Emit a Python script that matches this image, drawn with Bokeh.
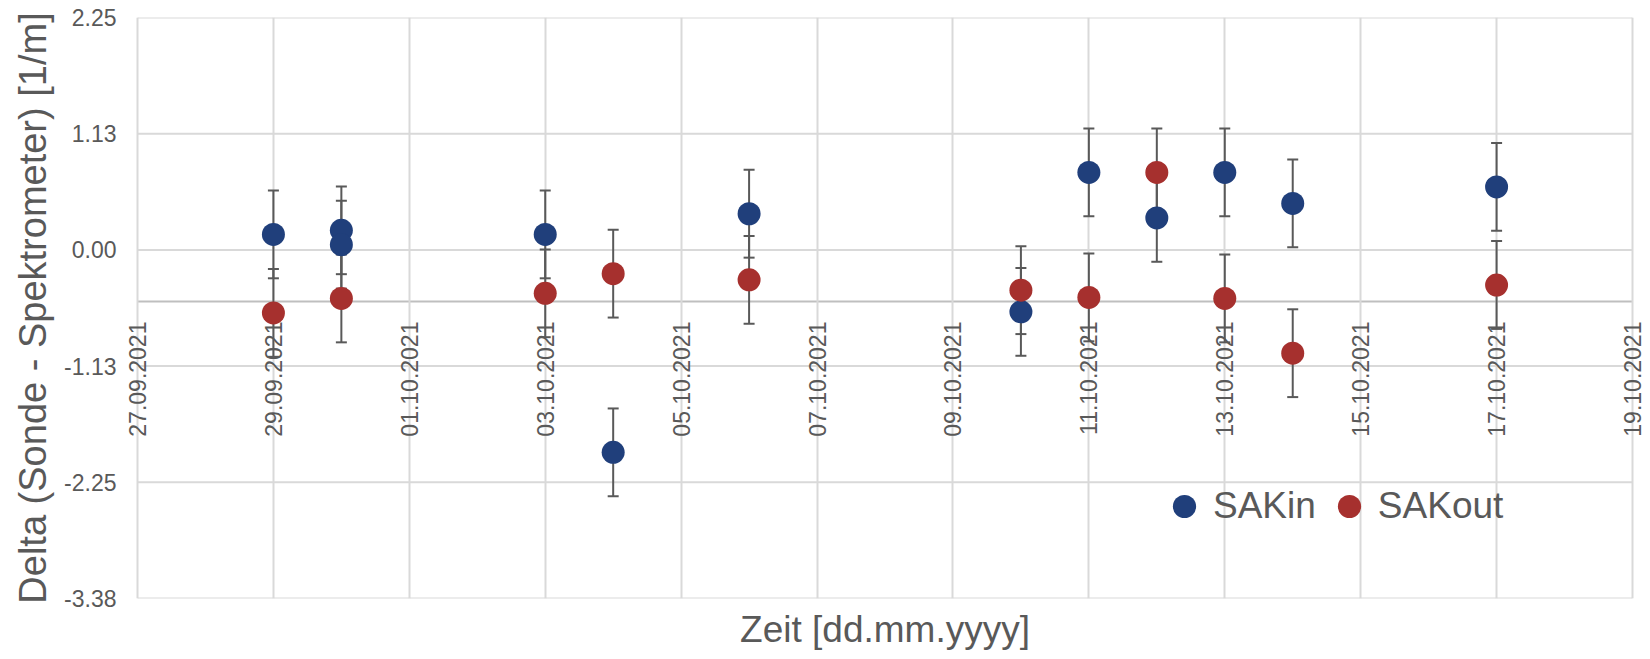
import math
from datetime import datetime, timedelta

from bokeh.plotting import figure
from bokeh.core.properties import value
from bokeh.models import (ColumnDataSource, Range1d, FixedTicker, Whisker, TeeHead,
                          Legend, LegendItem, Title, LabelSet)
from bokeh.embed import file_html
from bokeh.resources import INLINE

# ---------------- data ----------------
SAKIN_DATES = ["2021-09-29", "2021-09-30", "2021-09-30", "2021-10-03", "2021-10-04",
               "2021-10-06", "2021-10-10", "2021-10-11", "2021-10-12", "2021-10-13",
               "2021-10-14", "2021-10-17"]
SAKIN_VALUES = [0.15, 0.19, 0.05, 0.15, -1.96, 0.35, -0.60, 0.75, 0.31, 0.75, 0.45, 0.61]

SAKOUT_DATES = ["2021-09-29", "2021-09-30", "2021-10-03", "2021-10-04", "2021-10-06",
                "2021-10-10", "2021-10-11", "2021-10-12", "2021-10-13", "2021-10-14",
                "2021-10-17"]
SAKOUT_VALUES = [-0.61, -0.47, -0.42, -0.23, -0.29, -0.39, -0.46, 0.75, -0.47, -1.00, -0.34]

ERROR = 0.425  # symmetric error bar (+/-)

X_START = "2021-09-27"
X_END = "2021-10-19"
X_TICKS = ["2021-09-27", "2021-09-29", "2021-10-01", "2021-10-03", "2021-10-05",
           "2021-10-07", "2021-10-09", "2021-10-11", "2021-10-13", "2021-10-15",
           "2021-10-17", "2021-10-19"]
X_TICK_LABELS = ["27.09.2021", "29.09.2021", "01.10.2021", "03.10.2021", "05.10.2021",
                 "07.10.2021", "09.10.2021", "11.10.2021", "13.10.2021", "15.10.2021",
                 "17.10.2021", "19.10.2021"]
Y_MIN, Y_MAX = -3.375, 2.25
Y_TICKS = [-3.375, -2.25, -1.125, 0.0, 1.125, 2.25]
Y_TICK_LABELS = ["-3.38", "-2.25", "-1.13", "0.00", "1.13", "2.25"]
X_AXIS_CROSS = -0.5

SERIES_NAMES = ["SAKin", "SAKout"]
X_TITLE = "Zeit [dd.mm.yyyy]"
Y_TITLE = "Delta (Sonde - Spektrometer) [1/m]"

# ---------------- style / layout ----------------
BLUE = "#203F7B"
RED = "#A6302E"
TEXT = "#595959"
GRID = "#D9D9D9"
AXIS = "#BFBFBF"
FONT = "Liberation Sans"

W, H = 1650, 659
BORDER_L, BORDER_R, BORDER_T, BORDER_B = 123, 4, 17, 61
EDGE_PAD_PX = 14  # room inside the frame so the first/last date labels are not clipped


def to_dt(s):
    return datetime.strptime(s, "%Y-%m-%d")


def to_ms(s):
    return (to_dt(s) - datetime(1970, 1, 1)).total_seconds() * 1000.0


def make_source(dates, values):
    return ColumnDataSource(dict(
        x=[to_dt(d) for d in dates],
        y=values,
        upper=[v + ERROR for v in values],
        lower=[v - ERROR for v in values],
    ))


src_in = make_source(SAKIN_DATES, SAKIN_VALUES)
src_out = make_source(SAKOUT_DATES, SAKOUT_VALUES)

frame_w = W - BORDER_L - BORDER_R
span_days = (to_dt(X_END) - to_dt(X_START)).total_seconds() / 86400.0
pad_days = EDGE_PAD_PX * span_days / (frame_w - 2 * EDGE_PAD_PX)
pad = timedelta(days=pad_days)

p = figure(width=W, height=H, x_axis_type="datetime",
           x_range=Range1d(to_dt(X_START) - pad, to_dt(X_END) + pad),
           y_range=Range1d(Y_MIN, Y_MAX),
           output_backend="svg", toolbar_location=None,
           min_border_left=BORDER_L, min_border_right=BORDER_R,
           min_border_top=BORDER_T, min_border_bottom=BORDER_B)
p.outline_line_color = None
p.background_fill_color = "white"
p.border_fill_color = "white"

# x axis: ticks every two days, labels placed where the axis crosses y = -0.5
x_ticker = FixedTicker(ticks=[to_ms(t) for t in X_TICKS])
xa = p.xaxis[0]
xa.ticker = x_ticker
xa.visible = False
p.xgrid[0].ticker = x_ticker
p.xgrid[0].grid_line_color = GRID
p.xgrid[0].grid_line_width = 2

# horizontal grid lines limited to the date span, and the axis line at y = -0.5
p.ygrid[0].visible = False
n_y = len(Y_TICKS)
p.segment(x0=[to_dt(X_START)] * n_y, x1=[to_dt(X_END)] * n_y, y0=Y_TICKS, y1=Y_TICKS,
          line_color=GRID, line_width=2, level="image")
p.segment(x0=[to_dt(X_START)], x1=[to_dt(X_END)], y0=[X_AXIS_CROSS], y1=[X_AXIS_CROSS],
          line_color=AXIS, line_width=2, level="image")

tick_src = ColumnDataSource(dict(
    x=[to_dt(t) for t in X_TICKS],
    y=[X_AXIS_CROSS] * len(X_TICKS),
    text=X_TICK_LABELS,
))
p.add_layout(LabelSet(source=tick_src, x="x", y="y", text="text", angle=math.pi / 2,
                      text_align="right", text_baseline="middle", y_offset=-20,
                      text_font_size=value("23px"), text_font=value(FONT),
                      text_color=TEXT))

# y axis
ya = p.yaxis[0]
ya.ticker = FixedTicker(ticks=Y_TICKS)
ya.major_label_overrides = {t: l for t, l in zip(Y_TICKS, Y_TICK_LABELS)}
ya.axis_line_color = None
ya.major_tick_line_color = None
ya.minor_tick_line_color = None
ya.major_tick_out = 0
ya.major_tick_in = 0
ya.major_label_standoff = 7
ya.major_label_text_font_size = "23px"
ya.major_label_text_font = FONT
ya.major_label_text_color = TEXT
ya.axis_label = Y_TITLE
ya.axis_label_text_font_size = "38px"
ya.axis_label_text_font = FONT
ya.axis_label_text_font_style = "normal"
ya.axis_label_text_color = TEXT
ya.axis_label_standoff = 7

# error bars
for src in (src_in, src_out):
    w = Whisker(source=src, base="x", upper="upper", lower="lower", dimension="height",
                line_color=TEXT, line_width=2, level="underlay",
                upper_head=TeeHead(size=11, line_color=TEXT, line_width=2),
                lower_head=TeeHead(size=11, line_color=TEXT, line_width=2))
    p.add_layout(w)

r_in = p.scatter("x", "y", source=src_in, size=23, fill_color=BLUE, line_color=None)
r_out = p.scatter("x", "y", source=src_out, size=23, fill_color=RED, line_color=None)

legend = Legend(items=[LegendItem(label=SERIES_NAMES[0], renderers=[r_in]),
                       LegendItem(label=SERIES_NAMES[1], renderers=[r_out])],
                orientation="horizontal", location=(1032, 63),
                glyph_width=58, glyph_height=58, label_standoff=0, spacing=4,
                padding=0, margin=0, border_line_color=None, background_fill_alpha=0,
                label_text_font_size="37px", label_text_font=FONT, label_text_color=TEXT)
p.add_layout(legend)

p.add_layout(Title(text=X_TITLE, align="center", text_font_size="37px",
                   text_font=FONT, text_font_style="normal", text_color=TEXT,
                   standoff=17), "below")

open("out.html", "w").write(file_html(p, INLINE))
